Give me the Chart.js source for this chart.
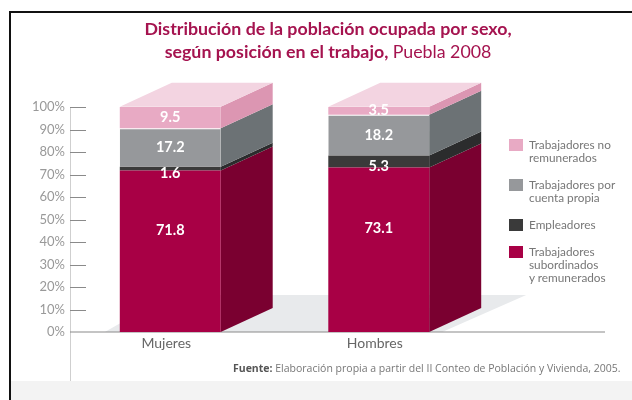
<!DOCTYPE html>
<html>
<head>
<meta charset="utf-8">
<script src="https://cdn.jsdelivr.net/npm/chart.js@4"></script>
<style>
    html, body { margin: 0; padding: 0; background: #fff; }
    #page { position: relative; width: 632px; height: 400px; overflow: hidden; font-family: Lato, sans-serif; filter: blur(0.4px); }
    #frame { position: absolute; left: 9px; top: 11px; right: 0; bottom: 0; border-left: 2px solid #111; border-top: 2px solid #111; }
    #band { position: absolute; left: 11px; right: 0; top: 381px; bottom: 0; background: #f3f3f3; }
    #chart { position: absolute; left: 0; top: 0; }
    #title { position: absolute; left: 128px; width: 400px; top: 17px; text-align: center; color: #a5134f; font-size: 17.8px; line-height: 23px; font-weight: 700; white-space: nowrap; }
    #title span { font-weight: 400; }
    #source { position: absolute; left: 233px; top: 362px; font-family: "Open Sans", sans-serif; font-size: 10.5px; line-height: 12px; color: #777; white-space: nowrap; }
    #source b { color: #555; }
    .item { position: absolute; left: 509px; font-size: 11.8px; line-height: 12.8px; color: #777; }
    .item i { position: absolute; left: 0; width: 14px; height: 12px; }
    .item div { margin-left: 20px; white-space: nowrap; }
</style>
</head>
<body>
<div id="page">
    <div id="frame"></div>
    <div id="band"></div>
    <canvas id="chart" width="632" height="400"></canvas>
    <div id="title">Distribución de la población ocupada por sexo,<br>según posición en el trabajo, <span>Puebla 2008</span></div>
    <div id="legend"></div>
    <div id="source"><b>Fuente:</b> Elaboración propia a partir del II Conteo de Población y Vivienda, 2005.</div>
</div>
<script>
const categories = ['Mujeres', 'Hombres'];
const subordinados = [71.8, 73.1];
const empleadores = [1.6, 5.3];
const cuentaPropia = [17.2, 18.2];
const noRemunerados = [9.5, 3.5];
const yTicks = [0, 10, 20, 30, 40, 50, 60, 70, 80, 90, 100];

const legendLabels = [
    ['Trabajadores no', 'remunerados'],
    ['Trabajadores por', 'cuenta propia'],
    ['Empleadores'],
    ['Trabajadores', 'subordinados', 'y remunerados']
];
const legendColors = ['#e8aac4', '#96989b', '#3a3a3a', '#a80045'];
const legendTops = [139, 179, 219, 246];

const depthX = 52;
const depthY = 24;

// caras laterales y superior de las barras, piso y ejes
const boxes = {
    id: 'boxes',
    beforeDatasetsDraw(chart) {
        const c = chart.ctx;
        const y = chart.scales.y;
        const zero = y.getPixelForValue(0);

        function poly(points, color) {
            c.fillStyle = color;
            c.beginPath();
            points.forEach(function (p, i) {
                if (i === 0) c.moveTo(p[0], p[1]);
                else c.lineTo(p[0], p[1]);
            });
            c.closePath();
            c.fill();
        }

        const first = chart.getDatasetMeta(0).data[0];
        const second = chart.getDatasetMeta(0).data[1];
        poly([
            [first.x - first.width / 2 - 15, zero],
            [first.x - first.width / 2 + 50, zero - 37],
            [second.x + second.width / 2 + 97, zero - 37],
            [second.x + second.width / 2 + 13, zero]
        ], '#e8eaec');

        c.strokeStyle = '#cfcfcf';
        c.lineWidth = 1;
        c.beginPath();
        c.moveTo(70.5, y.getPixelForValue(100));
        c.lineTo(70.5, 381);
        c.stroke();

        c.strokeStyle = '#8a8a8a';
        c.lineWidth = 1.2;
        c.beginPath();
        yTicks.forEach(function (t) {
            if (t === 0) return;
            const py = Math.round(y.getPixelForValue(t)) + 0.5;
            c.moveTo(70, py);
            c.lineTo(86, py);
        });
        c.moveTo(70, zero);
        c.lineTo(605, zero);
        c.stroke();

        chart.data.datasets.forEach(function (ds, i) {
            chart.getDatasetMeta(i).data.forEach(function (bar) {
                const r = bar.x + bar.width / 2;
                poly([[r, bar.y], [r + depthX, bar.y - depthY], [r + depthX, bar.base - depthY], [r, bar.base]], ds.sideColor);
                if (i === chart.data.datasets.length - 1) {
                    const l = bar.x - bar.width / 2;
                    poly([[l, bar.y], [l + depthX, bar.y - depthY], [r + depthX, bar.y - depthY], [r, bar.y]], ds.topColor);
                }
            });
        });
    },
    afterDatasetsDraw(chart) {
        const c = chart.ctx;
        c.fillStyle = '#fff';
        c.font = '700 14.5px Lato, sans-serif';
        c.textAlign = 'center';
        c.textBaseline = 'middle';
        chart.data.datasets.forEach(function (ds, i) {
            chart.getDatasetMeta(i).data.forEach(function (bar, j) {
                const h = bar.base - bar.y;
                const py = bar.base - h * ds.labelAt + ds.labelShift;
                c.fillText(ds.data[j].toFixed(1), bar.x, py);
            });
        });
    }
};

function seriesOf(data, color, sideColor, extra) {
    return Object.assign({
        data: data,
        backgroundColor: color,
        sideColor: sideColor,
        labelAt: 0.5,
        labelShift: 0,
        barPercentage: 1,
        categoryPercentage: 0.484
    }, extra);
}

new Chart(document.getElementById('chart').getContext('2d'), {
    type: 'bar',
    plugins: [boxes],
    data: {
        labels: categories,
        datasets: [
            seriesOf(subordinados, '#a80045', '#7a0030', { labelAt: 0.63 }),
            seriesOf(empleadores, '#3a3a3a', '#2b2c2d', { labelShift: 5 }),
            seriesOf(cuentaPropia, '#96989b', '#6c7275', {
                borderColor: ['rgba(255,255,255,0)', '#fff'],
                borderWidth: { top: 1, right: 0, bottom: 0, left: 0 },
                borderSkipped: false
            }),
            seriesOf(noRemunerados, '#e8aac4', '#dc96b2', { topColor: '#f3d4e1' })
        ]
    },
    options: {
        responsive: false,
        animation: false,
        layout: { padding: { top: 107, right: 149 } },
        plugins: { legend: { display: false }, tooltip: { enabled: false } },
        scales: {
            x: {
                stacked: true,
                grid: { display: false, drawTicks: false },
                border: { display: false },
                ticks: { color: '#666', font: { family: 'Lato, sans-serif', size: 14 }, padding: 3, labelOffset: -4 },
                afterFit: function (s) { s.height = 68; }
            },
            y: {
                stacked: true,
                min: 0,
                max: 100,
                grid: { display: false, drawTicks: false },
                border: { display: false },
                afterFit: function (s) { s.width = 66; },
                afterBuildTicks: function (s) { s.ticks = yTicks.map(function (v) { return { value: v }; }); },
                ticks: {
                    color: '#999',
                    padding: 1,
                    font: { family: 'Lato, sans-serif', size: 13 },
                    callback: function (v) { return v + '%'; }
                }
            }
        }
    }
});

const legend = document.getElementById('legend');
legendLabels.forEach(function (lines, i) {
    const item = document.createElement('div');
    item.className = 'item';
    item.style.top = legendTops[i] + 'px';
    const box = document.createElement('i');
    box.style.background = legendColors[i];
    item.appendChild(box);
    const text = document.createElement('div');
    text.innerHTML = lines.join('<br>');
    item.appendChild(text);
    legend.appendChild(item);
});
</script>
</body>
</html>
